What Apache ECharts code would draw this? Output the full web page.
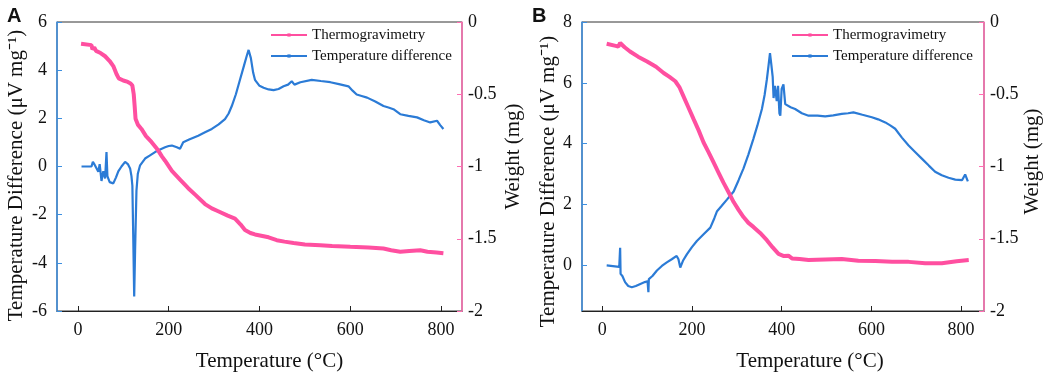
<!DOCTYPE html>
<html>
<head>
<meta charset="utf-8">
<script src="https://cdn.jsdelivr.net/npm/echarts@6/dist/echarts.min.js"></script>
<style>
    html, body {margin: 0; padding: 0; background: #fff;}
    #chart {width: 1052px; height: 377px;}
</style>
</head>
<body>
<div id="chart"></div>
<script>
// panel A, [temperature, value]
var tgA = [[7, -0.150], [30, -0.160], [32, -0.19], [36, -0.175], [40, -0.20], [50, -0.215], [60, -0.237], [70, -0.27],
    [78, -0.305], [85, -0.36], [90, -0.39], [100, -0.405], [110, -0.415], [116, -0.425], [120, -0.44], [123, -0.50],
    [125, -0.58], [127, -0.67], [132, -0.71], [140, -0.74], [150, -0.79], [162, -0.83], [175, -0.88], [185, -0.93],
    [192, -0.96], [207, -1.03], [225, -1.09], [243, -1.15], [260, -1.20], [280, -1.26], [295, -1.29], [309, -1.31],
    [330, -1.34], [346, -1.36], [358, -1.40], [368, -1.44], [380, -1.46], [390, -1.47], [401, -1.477], [420, -1.49],
    [438, -1.51], [455, -1.52], [475, -1.53], [500, -1.54], [534, -1.545], [560, -1.55], [600, -1.556], [640, -1.56],
    [673, -1.568], [690, -1.58], [710, -1.59], [730, -1.585], [754, -1.58], [770, -1.59], [790, -1.595], [805, -1.60]];
var dtaA = [[8, 0], [30, 0], [33, 0.2], [36, 0.1], [40, 0.15], [45, -0.22], [48, 0.1], [52, -0.6], [56, -0.2], [60, -0.5],
    [63, 0.6], [65, -0.4], [70, -0.65], [78, -0.7], [84, -0.45], [89, -0.2], [96, 0.0], [104, 0.19], [110, 0.1],
    [115, -0.08], [118, -0.4], [120, -0.8], [122, -3.0], [124, -5.4], [126, -3.5], [129, -1.0], [132, -0.3], [137, 0.05],
    [148, 0.33], [158, 0.45], [170, 0.6], [180, 0.7], [192, 0.8], [200, 0.85], [207, 0.87], [218, 0.8], [225, 0.74],
    [232, 1.01], [245, 1.12], [265, 1.28], [280, 1.42], [295, 1.56], [310, 1.75], [324, 1.97], [332, 2.2], [339, 2.51],
    [348, 3.0], [357, 3.6], [366, 4.2], [372, 4.6], [376, 4.84], [381, 4.5], [386, 3.9], [390, 3.6], [400, 3.35],
    [409, 3.27], [420, 3.2], [431, 3.17], [442, 3.22], [453, 3.33], [463, 3.4], [471, 3.54], [477, 3.4], [490, 3.5],
    [515, 3.6], [535, 3.55], [556, 3.5], [575, 3.42], [596, 3.33], [605, 3.15], [614, 2.99], [625, 2.93], [637, 2.86],
    [655, 2.7], [673, 2.51], [684, 2.45], [695, 2.38], [710, 2.17], [728, 2.1], [747, 2.04], [762, 1.92], [776, 1.83],
    [791, 1.9], [798, 1.72], [805, 1.56]];

// panel B
var tgB = [[10, -0.151], [30, -0.165], [36, -0.17], [40, -0.145], [44, -0.158], [50, -0.175], [62, -0.204], [80, -0.24],
    [100, -0.273], [120, -0.31], [137, -0.353], [150, -0.38], [163, -0.41], [172, -0.45], [181, -0.513], [192, -0.59],
    [204, -0.674], [215, -0.75], [226, -0.834], [237, -0.90], [248, -0.97], [259, -1.04], [270, -1.11], [282, -1.18],
    [293, -1.246], [304, -1.30], [315, -1.35], [326, -1.39], [337, -1.418], [352, -1.46], [367, -1.51], [380, -1.56],
    [393, -1.605], [405, -1.62], [415, -1.617], [423, -1.636], [440, -1.64], [460, -1.647], [497, -1.643], [534, -1.64],
    [571, -1.652], [609, -1.654], [646, -1.66], [683, -1.66], [720, -1.67], [757, -1.67], [790, -1.655], [817, -1.647]];
var dtaB = [[10, 0], [33, -0.04], [38, -0.05], [40, 0.58], [41, -0.28], [45, -0.35], [51, -0.55], [58, -0.68], [66, -0.72],
    [75, -0.68], [85, -0.61], [95, -0.55], [101, -0.52], [103, -0.88], [104, -0.45], [112, -0.35], [122, -0.17],
    [133, -0.02], [144, 0.1], [155, 0.2], [166, 0.31], [170, 0.2], [174, -0.07], [180, 0.15], [189, 0.37], [200, 0.6],
    [211, 0.8], [226, 1.02], [241, 1.24], [250, 1.55], [256, 1.78], [266, 1.95], [278, 2.16], [293, 2.43], [304, 2.8],
    [315, 3.19], [326, 3.65], [337, 4.16], [346, 4.6], [356, 5.14], [362, 5.6], [367, 6.11], [371, 6.6], [374, 6.98],
    [377, 6.6], [380, 6.2], [382, 5.5], [385, 5.9], [389, 5.4], [392, 5.9], [395, 5.0], [397, 4.92], [400, 5.8],
    [404, 5.95], [408, 5.3], [412, 5.25], [420, 5.2], [430, 5.14], [445, 5.0], [460, 4.92], [480, 4.92], [497, 4.9],
    [515, 4.93], [534, 4.98], [548, 5.0], [560, 5.03], [580, 4.95], [601, 4.87], [615, 4.8], [631, 4.7], [642, 4.6],
    [653, 4.49], [668, 4.2], [683, 3.94], [698, 3.72], [713, 3.5], [728, 3.28], [742, 3.08], [757, 2.96], [772, 2.88],
    [787, 2.82], [802, 2.8], [809, 2.99], [815, 2.76]];

var xTicks = [0, 200, 400, 600, 800];
var leftTicksB = [0, 2, 4, 6, 8];
var names = ['Thermogravimetry', 'Temperature difference'];

var PINK = '#ff4fa0', BLUE = '#2b7bd6';
var serif = '"Liberation Serif", "Times New Roman", serif';

function bottomAxis(grid, min, max, shift) {
    return {
        type: 'value', gridIndex: grid, min: min, max: max, position: 'bottom',
        name: 'Temperature (°C)', nameLocation: 'middle', nameGap: 40,
        nameTextStyle: {fontFamily: serif, fontSize: 21, color: '#111', padding: [0, 0, 0, shift * 2]},
        axisLine: {show: true, onZero: false, lineStyle: {color: '#222', width: 1}},
        axisTick: {show: true, inside: true, length: 5, customValues: xTicks, lineStyle: {color: '#222'}},
        axisLabel: {customValues: xTicks, margin: 10, fontFamily: serif, fontSize: 18, color: '#111'},
        splitLine: {show: false}
    };
}
// padR > 0 moves the rotated title down, padL > 0 moves it up
function leftAxis(grid, min, max, ticks, gap, padR) {
    var a = {
        type: 'value', gridIndex: grid, min: min, max: max, position: 'left',
        name: 'Temperature Difference (μV mg⁻¹)', nameLocation: 'middle', nameGap: gap, nameRotate: 90,
        nameTextStyle: {fontFamily: serif, fontSize: 21, color: '#111', padding: [0, padR, 0, 0]},
        axisLine: {show: true, onZero: false, lineStyle: {color: '#3d8fe0', width: 1.5}},
        axisTick: {show: true, inside: true, length: 5, lineStyle: {color: '#3d8fe0'}},
        axisLabel: {margin: 10, fontFamily: serif, fontSize: 18, color: '#111'},
        splitLine: {show: false}
    };
    if (ticks) {
        a.axisTick.customValues = ticks;
        a.axisLabel.customValues = ticks;
    } else {
        a.interval = 2;
    }
    return a;
}
function rightAxis(grid, gap, padL) {
    return {
        type: 'value', gridIndex: grid, min: -2, max: 0, interval: 0.5, position: 'right',
        name: 'Weight (mg)', nameLocation: 'middle', nameGap: gap, nameRotate: 90,
        nameTextStyle: {fontFamily: serif, fontSize: 21, color: '#111', padding: [0, 0, 0, padL]},
        axisLine: {show: true, onZero: false, lineStyle: {color: '#ff6fb3', width: 1.5}},
        axisTick: {show: true, inside: true, length: 5, lineStyle: {color: '#ff6fb3'}},
        axisLabel: {margin: 6, fontFamily: serif, fontSize: 18, color: '#111'},
        splitLine: {show: false}
    };
}
function tgSeries(data, xi, yi) {
    return {
        name: names[0], type: 'line', xAxisIndex: xi, yAxisIndex: yi, data: data,
        symbol: 'rect', symbolSize: 3, showSymbol: false, smooth: false,
        lineStyle: {color: PINK, width: 4}, itemStyle: {color: PINK}, z: 3
    };
}
function dtaSeries(data, xi, yi) {
    return {
        name: names[1], type: 'line', xAxisIndex: xi, yAxisIndex: yi, data: data,
        symbol: 'rect', symbolSize: 3, showSymbol: false, smooth: false,
        lineStyle: {color: BLUE, width: 2.2}, itemStyle: {color: BLUE}, z: 2
    };
}
function legendAt(left) {
    return {
        data: names, orient: 'vertical', left: left, top: 22, itemWidth: 36, itemHeight: 4, itemGap: 5,
        textStyle: {fontFamily: serif, fontSize: 15, color: '#111', lineHeight: 16}
    };
}

var chart = echarts.init(document.getElementById('chart'), null, {renderer: 'canvas'});
chart.setOption({
    animation: false,
    backgroundColor: '#fff',
    title: [
        {text: 'A', left: 2, top: 1, textStyle: {fontFamily: '"Liberation Sans", Arial', fontWeight: 'bold', fontSize: 20, color: '#111'}},
        {text: 'B', left: 527, top: 1, textStyle: {fontFamily: '"Liberation Sans", Arial', fontWeight: 'bold', fontSize: 20, color: '#111'}}
    ],
    legend: [legendAt(265), legendAt(786)],
    // grid border gives the black top edge, axis lines are drawn over the other sides
    grid: [
        {show: true, left: 57, top: 22, width: 405, height: 293, borderColor: '#333', borderWidth: 1},
        {show: true, left: 582, top: 22, width: 402, height: 292, borderColor: '#333', borderWidth: 1}
    ],
    xAxis: [bottomAxis(0, -46, 846, 10), bottomAxis(1, -45, 851, 27)],
    yAxis: [leftAxis(0, -6, 6, null, 30, 18), rightAxis(0, 41, 20), leftAxis(1, -1.5, 8, leftTicksB, 18, 30), rightAxis(1, 36, 10)],
    series: [
        tgSeries(tgA, 0, 1),
        dtaSeries(dtaA, 0, 0),
        tgSeries(tgB, 1, 3),
        dtaSeries(dtaB, 1, 2)
    ]
});
</script>
</body>
</html>
